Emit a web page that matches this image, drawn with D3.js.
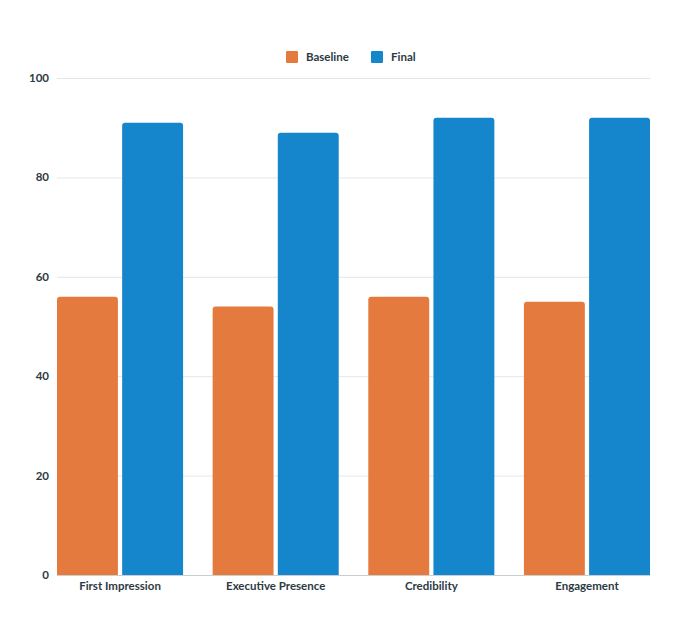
<!DOCTYPE html>
<html>
<head>
<meta charset="utf-8">
<script src="https://cdn.jsdelivr.net/npm/d3@7"></script>
<style>
  html, body { margin: 0; padding: 0; background: #fff; }
  svg { display: block; font-family: Lato, "Open Sans", sans-serif; }
</style>
</head>
<body>
<script>
// chart size
const width = 694;
const height = 625;
const margin = {top: 78, right: 44, bottom: 50, left: 57};

// data
const categories = ["First Impression", "Executive Presence", "Credibility", "Engagement"];
const seriesNames = ["Baseline", "Final"];
const baseline = [56, 54, 56, 55];
const final = [91, 89, 92, 92];
const yTicks = [0, 20, 40, 60, 80, 100];
const colors = ["#E57A3F", "#1585CC"];

const rows = categories.map((c, i) => ({cat: c, values: [baseline[i], final[i]]}));

const x0 = d3.scaleBand()
    .domain(categories)
    .range([margin.left, width - margin.right])
    .paddingInner(0.19)
    .paddingOuter(0);

const x1 = d3.scaleBand()
    .domain(seriesNames)
    .range([0, x0.bandwidth()])
    .paddingInner(0.065);

const y = d3.scaleLinear()
    .domain([0, 100])
    .range([height - margin.bottom, margin.top]);

const svg = d3.select("body").append("svg")
    .attr("width", width)
    .attr("height", height);

// grid lines
svg.append("g")
    .selectAll("line")
    .data(yTicks)
    .join("line")
    .attr("x1", margin.left)
    .attr("x2", width - margin.right)
    .attr("y1", d => y(d) + 0.5)
    .attr("y2", d => y(d) + 0.5)
    .attr("stroke", d => d === 0 ? "#c9cfd3" : "#e3e6e8")
    .attr("stroke-width", 1);

// y axis labels
svg.append("g")
    .selectAll("text")
    .data(yTicks)
    .join("text")
    .attr("x", margin.left - 8)
    .attr("y", d => y(d))
    .attr("dy", "0.35em")
    .attr("text-anchor", "end")
    .attr("font-size", 11.5)
    .attr("font-weight", "bold")
    .attr("fill", "#2c3a44")
    .text(d => d);

// bar with rounded top corners
const r = 3;
const barPath = (bx, by, bw, bh) => {
    const rr = Math.min(r, bh);
    return `M${bx},${by + bh}V${by + rr}Q${bx},${by} ${bx + rr},${by}` +
        `H${bx + bw - rr}Q${bx + bw},${by} ${bx + bw},${by + rr}V${by + bh}Z`;
};

const groups = svg.append("g")
    .selectAll("g")
    .data(rows)
    .join("g")
    .attr("transform", d => `translate(${x0(d.cat)},0)`);

groups.selectAll("path")
    .data(d => d.values.map((v, i) => ({name: seriesNames[i], value: v, i})))
    .join("path")
    .attr("fill", d => colors[d.i])
    .attr("d", d => barPath(x1(d.name), y(d.value), x1.bandwidth(), y(0) - y(d.value)));

// x labels
svg.append("g")
    .selectAll("text")
    .data(categories)
    .join("text")
    .attr("x", d => x0(d) + x0.bandwidth() / 2)
    .attr("y", y(0) + 15)
    .attr("text-anchor", "middle")
    .attr("font-size", 11.5)
    .attr("font-weight", "bold")
    .attr("fill", "#2c3a44")
    .text(d => d);

// legend
const legend = svg.append("g");
const legendX = [286, 371];
seriesNames.forEach((s, i) => {
    legend.append("rect")
        .attr("x", legendX[i])
        .attr("y", 51)
        .attr("width", 12)
        .attr("height", 12)
        .attr("rx", 1)
        .attr("fill", colors[i]);
    legend.append("text")
        .attr("x", legendX[i] + 20)
        .attr("y", 57)
        .attr("dy", "0.35em")
        .attr("font-size", 11.5)
        .attr("font-weight", "bold")
        .attr("fill", "#2c3a44")
        .text(s);
});
</script>
</body>
</html>
